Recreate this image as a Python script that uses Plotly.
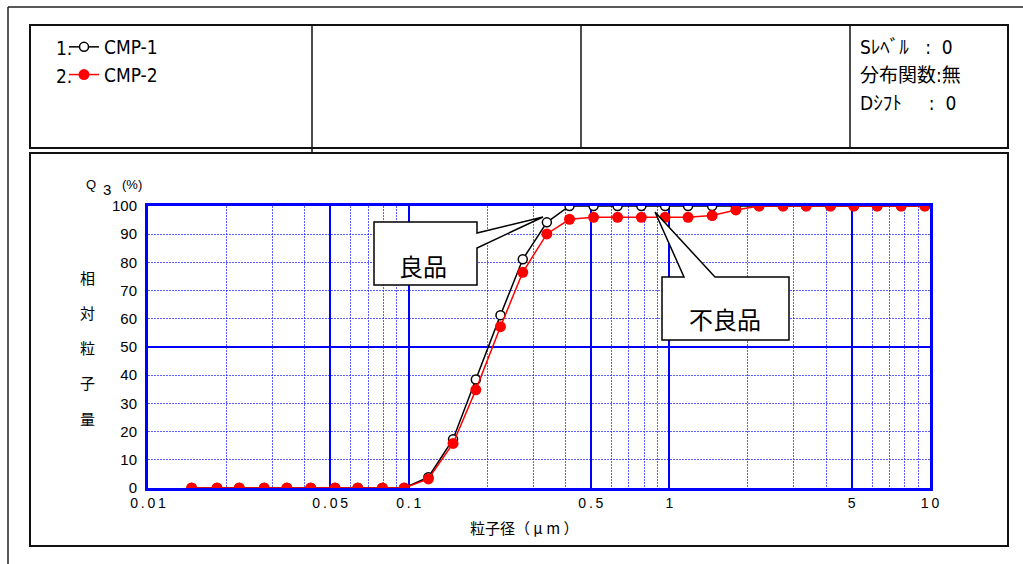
import plotly.graph_objects as go

# ---- data ----
sizes = [0.0147, 0.0184, 0.0224, 0.0279, 0.0341, 0.0421, 0.0522, 0.0638, 0.0793, 0.0961,
         0.119, 0.148, 0.181, 0.225, 0.274, 0.339, 0.414, 0.512, 0.633, 0.781,
         0.963, 1.18, 1.46, 1.80, 2.21, 2.73, 3.35, 4.15, 5.10, 6.27, 7.75, 9.55]
cmp1 = [0, 0, 0, 0, 0, 0, 0, 0, 0, 0,
        3.8, 17.3, 38.5, 61.3, 81.1, 94.2, 100, 100, 100, 100,
        100, 100, 100, 100, 100, 100, 100, 100, 100, 100, 100, 100]
cmp2 = [0, 0, 0, 0, 0, 0, 0, 0, 0, 0,
        3.2, 15.8, 34.8, 57.2, 76.5, 90.1, 95.3, 96.0, 96.0, 96.0,
        96.0, 96.0, 96.6, 98.6, 100, 100, 100, 100, 100, 100, 100, 100]
series_names = ["CMP-1", "CMP-2"]
x_tickvals = [0.01, 0.05, 0.1, 0.5, 1, 5, 10]
x_ticklabels = ["0.01", "0.05", "0.1", "0.5", "1", "5", "10"]
x_minor = [0.02, 0.03, 0.04, 0.06, 0.07, 0.08, 0.09,
           0.2, 0.3, 0.4, 0.6, 0.7, 0.8, 0.9,
           2, 3, 4, 6, 7, 8, 9]
y_tickvals = [0, 10, 20, 30, 40, 50, 60, 70, 80, 90, 100]
y_minor = [10, 20, 30, 40, 60, 70, 80, 90]
NB = "\u00a0"
info_lines = ["Sﾚﾍﾞﾙ" + NB * 3 + ":" + NB * 2 + "0", "分布関数:無", "Dｼﾌﾄ" + NB * 5 + ":" + NB * 2 + "0"]
ylabel_chars = ["相", "対", "粒", "子", "量"]

# ---- geometry helpers (pixel -> paper) ----
W, H = 1023, 564
L, R, T, B = 148, 930, 206, 488
def px(x):
    return (x - L) / (R - L)
def py(y):
    return (B - y) / (B - T)

BLUE = "#0000ff"
MINOR = "rgba(40,40,255,0.75)"
CJK = "Noto Sans CJK JP"
NARROW = "Liberation Sans Narrow, DejaVu Sans Condensed, Arial Narrow, Liberation Sans, sans-serif"
ARIAL = "Liberation Sans, Arial, sans-serif"

fig = go.Figure()
fig.add_trace(go.Scatter(
    x=sizes, y=cmp1, name=series_names[0], mode="lines+markers",
    line=dict(color="black", width=1.5),
    marker=dict(symbol="circle", size=9, color="white", line=dict(color="black", width=1.5)),
    legendgroup="a"))
fig.add_trace(go.Scatter(
    x=sizes, y=cmp2, name=series_names[1], mode="lines+markers",
    line=dict(color="red", width=1.5),
    marker=dict(symbol="circle", size=11, color="red", line=dict(color="red", width=0)),
    legendgroup="b"))

thin = "\u2009"
fig.update_xaxes(
    type="log", range=[-2, 1],
    tickvals=x_tickvals, ticktext=[thin.join(list(t)) for t in x_ticklabels],
    ticks="", tickfont=dict(family=ARIAL, size=14, color="black"),
    ticklabelstandoff=0,
    showgrid=True, gridcolor=BLUE, gridwidth=2,
    showline=True, linecolor=BLUE, linewidth=3, mirror=True,
    minor=dict(tickvals=x_minor, showgrid=True, gridcolor=MINOR, gridwidth=1, griddash="2px,1px", ticks=""),
    zeroline=False)
fig.update_yaxes(
    range=[0, 100], tickvals=y_tickvals, ticks="",
    tickfont=dict(family=ARIAL, size=15, color="black"),
    ticklabelstandoff=5,
    showgrid=False,
    showline=True, linecolor=BLUE, linewidth=3, mirror=True,
    minor=dict(tickvals=y_minor, showgrid=True, gridcolor=MINOR, gridwidth=1, griddash="2px,1px", ticks=""),
    zeroline=False)

shapes = []
shapes.append(dict(type="line", xref="paper", yref="y", x0=0, x1=1, y0=50, y1=50,
                   line=dict(color=BLUE, width=2), layer="below"))
shapes.append(dict(type="line", xref="paper", yref="paper", x0=px(8), x1=px(8), y0=py(7), y1=py(570),
                   line=dict(color="#222", width=1.5)))
shapes.append(dict(type="line", xref="paper", yref="paper", x0=px(8), x1=px(1030), y0=py(7), y1=py(7),
                   line=dict(color="#222", width=1.5)))
shapes.append(dict(type="rect", xref="paper", yref="paper", x0=px(30), x1=px(1008), y0=py(25), y1=py(148),
                   line=dict(color="#111", width=2)))
shapes.append(dict(type="rect", xref="paper", yref="paper", x0=px(30), x1=px(1008), y0=py(153), y1=py(546),
                   line=dict(color="#111", width=2)))
for xd, yb in [(312, 153), (581, 148), (850, 148)]:
    shapes.append(dict(type="line", xref="paper", yref="paper", x0=px(xd), x1=px(xd), y0=py(25), y1=py(yb),
                       line=dict(color="#111", width=1.5)))

def path(points):
    return "M " + " L ".join(f"{px(a):.5f},{py(b):.5f}" for a, b in points) + " Z"

shapes.append(dict(type="path", xref="paper", yref="paper",
                   path=path([(374, 222), (477, 222), (477, 233), (543, 217), (477, 248), (477, 285), (374, 285)]),
                   fillcolor="white", line=dict(color="black", width=1.5)))
shapes.append(dict(type="path", xref="paper", yref="paper",
                   path=path([(662, 277), (684, 277), (655, 212), (715, 277), (789, 277), (789, 340), (662, 340)]),
                   fillcolor="white", line=dict(color="black", width=1.5)))

ann = []
ann.append(dict(x=px(423), y=py(265), text="良品", font=dict(family=CJK, size=24, color="black")))
ann.append(dict(x=px(725), y=py(318), text="不良品", font=dict(family=CJK, size=24, color="black")))
ann.append(dict(x=px(54), y=py(48), text="1.", xanchor="left", font=dict(family=NARROW, size=19, color="black")))
ann.append(dict(x=px(54), y=py(76), text="2.", xanchor="left", font=dict(family=NARROW, size=19, color="black")))
for i, t in enumerate(info_lines):
    ann.append(dict(x=px(858), y=py(47 + 28 * i), text=t, xanchor="left",
                    font=dict(family="Liberation Sans Narrow, DejaVu Sans Condensed, " + CJK, size=19, color="black")))
ann.append(dict(x=px(91), y=py(184), text="Q", font=dict(family=ARIAL, size=13, color="black")))
ann.append(dict(x=px(107), y=py(189), text="3", font=dict(family=ARIAL, size=15, color="black")))
ann.append(dict(x=px(132), y=py(184), text="(%)", font=dict(family=ARIAL, size=13, color="black")))
for i, c in enumerate(ylabel_chars):
    ann.append(dict(x=px(87), y=py(277 + 35.3 * i), text=c, font=dict(family=CJK, size=15, color="black")))
ann.append(dict(x=px(524), y=py(527), text="粒子径（ μ m ）", font=dict(family=CJK, size=15, color="black")))
for a in ann:
    a.setdefault("xanchor", "center")
    a.update(xref="paper", yref="paper", showarrow=False, yanchor="middle")

fig.update_layout(
    width=W, height=H, autosize=False,
    margin=dict(l=L, r=W - R, t=T, b=H - B, pad=0),
    paper_bgcolor="white", plot_bgcolor="white",
    shapes=shapes, annotations=ann,
    showlegend=True,
    legend=dict(x=px(64), y=py(28), xanchor="left", yanchor="top",
                font=dict(family=NARROW, size=19, color="black"),
                bgcolor="rgba(0,0,0,0)", itemwidth=30,
                traceorder="grouped", tracegroupgap=0),
)
fig.write_html("out.html", config={"displayModeBar": False},
               post_script="document.body.style.margin='0';")
